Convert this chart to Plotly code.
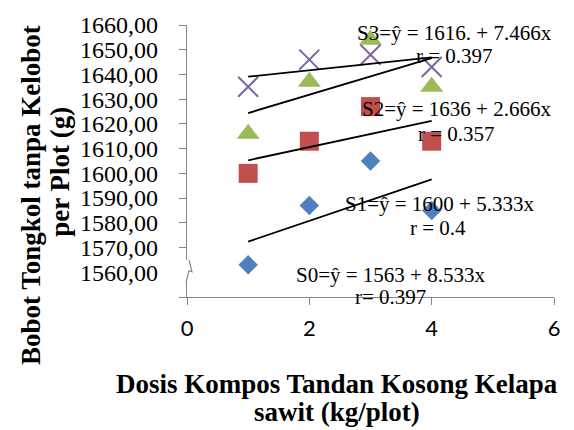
import numpy as np
import plotly.graph_objects as go

# ---- data ----
dosis = [1, 2, 3, 4]
S0 = [1563, 1587, 1605, 1585]
S1 = [1600, 1613, 1627, 1613]
S2 = [1616, 1637, 1654, 1635]
S3 = [1635, 1646, 1648, 1643]
series_names = ["S0", "S1", "S2", "S3"]
y_ticks = [1560, 1570, 1580, 1590, 1600, 1610, 1620, 1630, 1640, 1650, 1660]
x_ticks = [0, 2, 4, 6]
eq_texts = [
    ("S0=ŷ = 1563 + 8.533x", "r= 0.397"),
    ("S1=ŷ = 1600 + 5.333x", "r = 0.4"),
    ("S2=ŷ = 1636 + 2.666x", "r = 0.357"),
    ("S3=ŷ = 1616. + 7.466x", "r = 0.397"),
]

colors = ["#4F81BD", "#C0504D", "#9BBB59", "#8064A2"]
symbols = ["diamond", "square", "triangle-up", "x-thin-open"]
sizes = [15, 19, 20, 20]

fig = go.Figure()
all_series = [S0, S1, S2, S3]
for name, ys, c, s, sz in zip(series_names, all_series, colors, symbols, sizes):
    if s == "x-thin-open":
        marker = dict(symbol=s, size=sz, color=c, line=dict(color=c, width=2))
    else:
        marker = dict(symbol=s, size=sz, color=c, line=dict(width=0))
    fig.add_trace(go.Scatter(x=dosis, y=ys, mode="markers", name=name,
                             marker=marker, showlegend=False, cliponaxis=False))

# linear trend lines (least squares fit of each series)
for ys in all_series:
    b, a = np.polyfit(dosis, ys, 1)
    xs = [dosis[0], dosis[-1]]
    fig.add_trace(go.Scatter(x=xs, y=[a + b * v for v in xs], mode="lines",
                             line=dict(color="black", width=1.8),
                             showlegend=False, hoverinfo="skip"))

serif = "Liberation Serif, Times New Roman, serif"

# equation annotations (data coordinates)
eq_pos = [
    ((3.32, 1559.1), (3.32, 1550.2)),
    ((4.12, 1587.5), (4.10, 1578.1)),
    ((4.40, 1625.9), (4.40, 1616.0)),
    ((4.38, 1656.7), (4.38, 1647.6)),
]
annotations = []
for (eq, r), ((ex, ey), (rx, ry)) in zip(eq_texts, eq_pos):
    annotations.append(dict(x=ex, y=ey, text=eq, showarrow=False, xref="x", yref="y",
                            font=dict(family=serif, size=21, color="black"),
                            xanchor="center", yanchor="middle"))
    annotations.append(dict(x=rx, y=ry, text=r, showarrow=False, xref="x", yref="y",
                            font=dict(family=serif, size=21, color="black"),
                            xanchor="center", yanchor="middle"))

# axis titles
L, R, T, B = 187, 20, 17, 133
W, H = 574, 430
pw, ph = W - L - R, H - T - B
def px_x(p):
    return (p - L) / pw
def px_y(p):
    return (H - B - p) / ph

title_font = dict(family=serif, size=27, color="black")
annotations.append(dict(x=px_x(31), y=px_y(192), xref="paper", yref="paper",
                        text="<b>Bobot Tongkol tanpa Kelobot</b>", textangle=-90,
                        showarrow=False, font=title_font, xanchor="center", yanchor="middle"))
annotations.append(dict(x=px_x(60), y=px_y(168), xref="paper", yref="paper",
                        text="<b>per Plot (g)</b>", textangle=-90,
                        showarrow=False, font=title_font, xanchor="center", yanchor="middle"))
annotations.append(dict(x=px_x(337), y=px_y(387), xref="paper", yref="paper",
                        text="<b>Dosis Kompos Tandan Kosong Kelapa</b>",
                        showarrow=False, font=title_font, xanchor="center", yanchor="middle"))
annotations.append(dict(x=px_x(337), y=px_y(415), xref="paper", yref="paper",
                        text="<b>sawit (kg/plot)</b>",
                        showarrow=False, font=title_font, xanchor="center", yanchor="middle"))

axis_grey = "#868686"
shapes = [
    # axis break: white patch over the axis, then zigzag
    dict(type="rect", xref="paper", yref="paper",
         x0=px_x(176), x1=px_x(196), y0=px_y(281), y1=px_y(259),
         fillcolor="white", line=dict(width=0), layer="above"),
    dict(type="path", xref="paper", yref="paper",
         path=f"M {px_x(186)},{px_y(282)} L {px_x(189)},{px_y(270)} "
              f"L {px_x(192)},{px_y(271)} L {px_x(189)},{px_y(259)}",
         line=dict(color=axis_grey, width=1.2), layer="above"),
]

fig.update_layout(
    width=W, height=H,
    margin=dict(l=L, r=R, t=T, b=B, pad=0),
    paper_bgcolor="white", plot_bgcolor="white",
    separators=", ",
    annotations=annotations,
    shapes=shapes,
    xaxis=dict(range=[0, 6], tickvals=x_ticks, ticks="outside", ticklen=7,
               tickcolor=axis_grey, showline=True, linecolor=axis_grey, linewidth=1.3,
               showgrid=False, zeroline=False, ticklabelstandoff=4,
               tickfont=dict(family="Lato, Open Sans, sans-serif", size=22, color="black")),
    yaxis=dict(range=[1550, 1660], tickvals=y_ticks, tickformat=".2f",
               ticks="outside", ticklen=7, tickcolor=axis_grey,
               showline=True, linecolor=axis_grey, linewidth=1.3,
               showgrid=False, zeroline=False, ticklabelstandoff=16,
               minor=dict(tickmode="array", tickvals=[1550], ticks="outside",
                          ticklen=7, tickcolor=axis_grey),
               tickfont=dict(family=serif, size=24, color="black")),
)

fig.write_html("out.html")
